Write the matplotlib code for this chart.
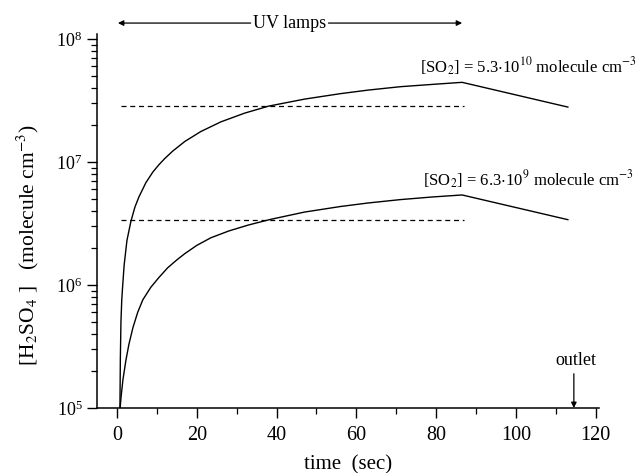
import matplotlib
matplotlib.use('Agg')
import matplotlib.pyplot as plt
from matplotlib.ticker import LogLocator, MultipleLocator, FixedLocator

plt.rcParams['font.family'] = ['Liberation Serif', 'DejaVu Serif']
plt.rcParams['mathtext.fontset'] = 'stix'

# H2SO4 vs time, [SO2] = 5.3e10
t_high = [0.75, 0.85, 1.0, 1.2, 1.4, 1.8, 2.5, 3.5, 4.5, 5.5, 7.25, 9, 10.5, 12, 14, 17,
          21, 26, 32, 38, 47, 56, 63, 71, 79, 86.5, 113]
c_high = [1e5, 2.5e5, 5e5, 7.5e5, 9.5e5, 1.45e6, 2.3e6, 3.3e6, 4.3e6, 5.2e6, 6.8e6,
          8.3e6, 9.5e6, 1.07e7, 1.23e7, 1.47e7, 1.77e7, 2.12e7, 2.5e7, 2.85e7, 3.25e7,
          3.6e7, 3.85e7, 4.1e7, 4.28e7, 4.45e7, 2.8e7]

# H2SO4 vs time, [SO2] = 6.3e9
t_low = [0.8, 1.0, 1.5, 2.25, 3, 4, 5.2, 6.5, 8.5, 10.5, 12.7, 15, 17, 20, 23.5, 28,
         33, 38.5, 47, 56, 63, 71, 79, 86.5, 113]
c_low = [1e5, 1.2e5, 1.7e5, 2.45e5, 3.3e5, 4.5e5, 6e5, 7.6e5, 9.6e5, 1.15e6, 1.38e6,
         1.6e6, 1.8e6, 2.1e6, 2.42e6, 2.75e6, 3.08e6, 3.42e6, 3.92e6, 4.35e6, 4.65e6,
         4.95e6, 5.2e6, 5.4e6, 3.4e6]

# steady-state levels (dashed)
t_ss = [1, 87]
ss_high = 2.85e7
ss_low = 3.4e6

uv_start, uv_end = 0.25, 86.5
outlet_t = 114.5

fig = plt.figure(figsize=(6.38, 4.73), dpi=100)
ax = fig.add_axes([97/638, 1-408/473, 502/638, 374/473])

ax.plot(t_high, c_high, color='black', lw=1.0)
ax.plot(t_low, c_low, color='black', lw=1.0)
ax.plot(t_ss, [ss_high, ss_high], color='black', lw=0.9, ls=(0, (4, 3)))
ax.plot(t_ss, [ss_low, ss_low], color='black', lw=0.9, ls=(0, (4, 3)))

ax.set_yscale('log')
ax.set_ylim(1e5, 1.1e8)
ax.set_xlim(-5, 120.8)
ax.xaxis.set_major_locator(MultipleLocator(20))
ax.xaxis.set_minor_locator(MultipleLocator(10))
ax.yaxis.set_major_locator(FixedLocator([1e5, 1e6, 1e7, 1e8]))
ax.yaxis.set_minor_locator(LogLocator(base=10, subs=range(2, 10)))

for s in ['top', 'right']:
    ax.spines[s].set_visible(False)
for s in ['left', 'bottom']:
    ax.spines[s].set_linewidth(1.1)

ax.tick_params(which='major', direction='out', length=7, width=1.0)
ax.tick_params(which='minor', direction='out', length=4, width=0.9)
ax.tick_params(axis='x', pad=6, labelsize=14.5)
ax.tick_params(axis='y', labelsize=13)

ax.set_xlabel('time  (sec)', fontsize=15, labelpad=7)
fig.text(28/638, 1-245/473, r'[H$_2$SO$_4$ ]   (molecule cm$^{-3}$)', rotation=90,
         ha='center', va='center', fontsize=15.5)

# UV lamps arrows
y_uv = 1.35e8
ax.annotate('', xy=(uv_start, y_uv), xytext=(33.5, y_uv),
            arrowprops=dict(arrowstyle='-|>', color='black', lw=0.9,
                            mutation_scale=8, shrinkA=0, shrinkB=0),
            annotation_clip=False)
ax.annotate('', xy=(uv_end, y_uv), xytext=(53, y_uv),
            arrowprops=dict(arrowstyle='-|>', color='black', lw=0.9,
                            mutation_scale=8, shrinkA=0, shrinkB=0),
            annotation_clip=False)
ax.text(43.2, y_uv, 'UV lamps', ha='center', va='center', fontsize=13, clip_on=False)

ax.text(103, 6.0e7, r'[SO$_2$] = 5.3$\cdot$10$^{10}$ molecule cm$^{-3}$',
        ha='center', va='center', fontsize=12, clip_on=False)
ax.text(103, 7.15e6, r'[SO$_2$] = 6.3$\cdot$10$^{9}$ molecule cm$^{-3}$',
        ha='center', va='center', fontsize=12, clip_on=False)

# outlet marker
ax.annotate('', xy=(outlet_t, 1.0e5), xytext=(outlet_t, 1.9e5),
            arrowprops=dict(arrowstyle='-|>', color='black', lw=0.9,
                            mutation_scale=8, shrinkA=0, shrinkB=0))
ax.text(115, 2.45e5, 'outlet', ha='center', va='center', fontsize=13)

fig.savefig('out.png', dpi=100)
